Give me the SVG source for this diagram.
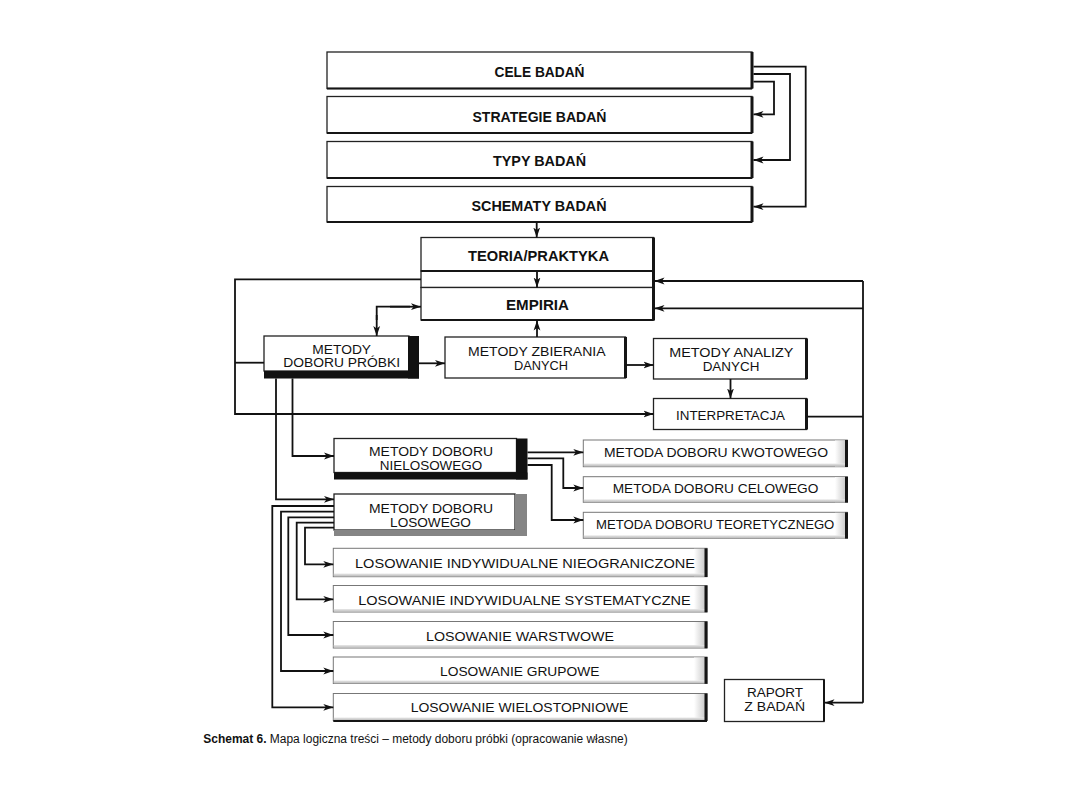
<svg xmlns="http://www.w3.org/2000/svg" width="1080" height="810" viewBox="0 0 1080 810">
<defs>
<marker id="ah" markerUnits="userSpaceOnUse" markerWidth="12" markerHeight="8" refX="10" refY="4" orient="auto">
<path d="M0,0.6 L10,4 L0,7.4 L2.6,4 z" fill="#111"/>
</marker>
<linearGradient id="gh" x1="0" y1="0" x2="1" y2="0">
<stop offset="0" stop-color="#ffffff"/>
<stop offset="1" stop-color="#c4c4c4"/>
</linearGradient>
<linearGradient id="gv" x1="0" y1="0" x2="0" y2="1">
<stop offset="0" stop-color="#e8e8e8"/>
<stop offset="1" stop-color="#b8b8b8"/>
</linearGradient>
<style>
.b{fill:#fff;stroke:#222;stroke-width:1.3}
.lb{fill:#fff;stroke:#777;stroke-width:1}
.edge{stroke:#151515;stroke-width:3;fill:none}
.edge2{stroke:#151515;stroke-width:2;fill:none}
.blk{fill:#111}
.gry{fill:#858585}
.sh{fill:url(#gh)}
.sv{fill:url(#gv)}
.c{fill:none;stroke:#111;stroke-width:1.8}
.ca{fill:none;stroke:#111;stroke-width:1.8;marker-end:url(#ah)}
text{font-family:"Liberation Sans","Noto Sans",sans-serif;fill:#111;text-anchor:middle}
.tb{font-weight:bold;font-size:15px}
.tr{font-size:13.5px}
.t2{font-size:12px}
.cap{font-size:12px;text-anchor:start}
</style>
</defs>
<rect width="1080" height="810" fill="#fff"/>

<g id="cele">
<rect class="b" x="327" y="52" width="425" height="36.5"/>
<line class="edge" x1="752" y1="52" x2="752" y2="88.5"/>
<line class="edge2" x1="327" y1="88.5" x2="752" y2="88.5"/>
<text class="tb" x="539.5" y="77.3" textLength="90" lengthAdjust="spacingAndGlyphs">CELE BADAŃ</text>
</g>
<g id="strategie">
<rect class="b" x="327" y="96.5" width="425" height="36.5"/>
<line class="edge" x1="752" y1="96.5" x2="752" y2="133"/>
<line class="edge2" x1="327" y1="133" x2="752" y2="133"/>
<text class="tb" x="539.5" y="122" textLength="134" lengthAdjust="spacingAndGlyphs">STRATEGIE BADAŃ</text>
</g>
<g id="typy">
<rect class="b" x="327" y="141.5" width="425" height="36.5"/>
<line class="edge" x1="752" y1="141.5" x2="752" y2="178"/>
<line class="edge2" x1="327" y1="178" x2="752" y2="178"/>
<text class="tb" x="539.5" y="166.3" textLength="93" lengthAdjust="spacingAndGlyphs">TYPY BADAŃ</text>
</g>
<g id="schematy">
<rect class="b" x="327" y="186.5" width="425" height="35.5"/>
<line class="edge" x1="752" y1="186.5" x2="752" y2="222"/>
<line class="edge2" x1="327" y1="222" x2="752" y2="222"/>
<text class="tb" x="539" y="211.3" textLength="135" lengthAdjust="spacingAndGlyphs">SCHEMATY BADAŃ</text>
</g>

<g id="teoria">
<rect class="b" x="421" y="237.5" width="232.5" height="33.5"/>
<rect class="b" x="421" y="271" width="232.5" height="16.5"/>
<line class="edge2" x1="421" y1="271" x2="653.5" y2="271"/>
<text class="tb" x="538.5" y="261.3" textLength="141" lengthAdjust="spacingAndGlyphs">TEORIA/PRAKTYKA</text>
</g>
<g id="empiria">
<rect class="b" x="421" y="287.5" width="232.5" height="32.5"/>
<line class="edge2" x1="421" y1="320" x2="653.5" y2="320"/>
<line class="edge" x1="653.5" y1="237.5" x2="653.5" y2="320.5"/>
<text class="tb" x="537.5" y="310.3" textLength="63" lengthAdjust="spacingAndGlyphs">EMPIRIA</text>
</g>

<g id="proba">
<rect class="b" x="264" y="336" width="145" height="35"/>
<rect class="blk" x="408" y="336" width="11" height="42.5"/>
<rect class="blk" x="264" y="371" width="155" height="7.5"/>
<text class="t2" y="353.5"><tspan x="341.7" textLength="58.7" lengthAdjust="spacingAndGlyphs">METODY</tspan><tspan x="341.7" dy="13.6" textLength="116.7" lengthAdjust="spacingAndGlyphs">DOBORU PRÓBKI</tspan></text>
</g>
<g id="zbieranie">
<rect class="b" x="445" y="337" width="180.5" height="41"/>
<line class="edge" x1="625.5" y1="337" x2="625.5" y2="378"/>
<text class="t2" y="356"><tspan x="536.8" textLength="137.6" lengthAdjust="spacingAndGlyphs">METODY ZBIERANIA</tspan><tspan x="541" dy="14.3" textLength="54" lengthAdjust="spacingAndGlyphs">DANYCH</tspan></text>
</g>
<g id="analiza">
<rect class="b" x="653.5" y="338.5" width="153" height="40.5"/>
<line class="edge" x1="806.5" y1="338.5" x2="806.5" y2="379"/>
<text class="t2" y="357"><tspan x="731.3" textLength="124" lengthAdjust="spacingAndGlyphs">METODY ANALIZY</tspan><tspan x="731" dy="13.6" textLength="56.7" lengthAdjust="spacingAndGlyphs">DANYCH</tspan></text>
</g>
<g id="interpretacja">
<rect class="b" x="653.5" y="398.5" width="153" height="31"/>
<line class="edge" x1="806.5" y1="398.5" x2="806.5" y2="429.5"/>
<text class="tr" x="730.5" y="420" textLength="109" lengthAdjust="spacingAndGlyphs">INTERPRETACJA</text>
</g>

<g id="nielosowy">
<rect class="b" x="334" y="438.5" width="182.5" height="34"/>
<rect class="blk" x="516" y="438.5" width="11.5" height="41"/>
<rect class="blk" x="334" y="472.5" width="193.5" height="7"/>
<text class="t2" y="456.2"><tspan x="431" textLength="124" lengthAdjust="spacingAndGlyphs">METODY DOBORU</tspan><tspan x="431" dy="13.6" textLength="102.4" lengthAdjust="spacingAndGlyphs">NIELOSOWEGO</tspan></text>
</g>
<g id="losowy">
<rect class="b" x="334" y="494" width="181" height="36"/>
<rect class="gry" x="515" y="494" width="12" height="42"/>
<rect class="gry" x="334" y="530" width="193" height="6"/>
<text class="t2" y="513"><tspan x="431" textLength="124" lengthAdjust="spacingAndGlyphs">METODY DOBORU</tspan><tspan x="430.5" dy="13.6" textLength="80.8" lengthAdjust="spacingAndGlyphs">LOSOWEGO</tspan></text>
</g>

<g id="kwotowy">
<rect class="lb" x="583.3" y="440" width="264" height="26.7"/>
<rect class="sh" x="835" y="440.5" width="12" height="26"/>
<rect class="sv" x="583.8" y="463.5" width="263" height="3"/>
<line class="edge" x1="846.5" y1="440" x2="846.5" y2="467"/>
<text class="tr" x="716" y="457" textLength="224" lengthAdjust="spacingAndGlyphs">METODA DOBORU KWOTOWEGO</text>
</g>
<g id="celowy">
<rect class="lb" x="583.3" y="476.7" width="264" height="25.6"/>
<rect class="sh" x="835" y="477.2" width="12" height="25"/>
<rect class="sv" x="583.8" y="499.3" width="263" height="3"/>
<line class="edge" x1="846.5" y1="476.7" x2="846.5" y2="502.6"/>
<text class="tr" x="715.5" y="493" textLength="205.7" lengthAdjust="spacingAndGlyphs">METODA DOBORU CELOWEGO</text>
</g>
<g id="teoretyczny">
<rect class="lb" x="583.3" y="512.3" width="264" height="26"/>
<rect class="sh" x="835" y="512.8" width="12" height="25.5"/>
<rect class="sv" x="583.8" y="535.3" width="263" height="3"/>
<line class="edge" x1="846.5" y1="512.3" x2="846.5" y2="538.6"/>
<text class="tr" x="715.2" y="529" textLength="238.3" lengthAdjust="spacingAndGlyphs">METODA DOBORU TEORETYCZNEGO</text>
</g>

<g id="nieograniczone">
<rect class="lb" x="333.3" y="548.3" width="373.7" height="28.4"/>
<rect class="sh" x="694" y="548.8" width="12.5" height="27.5"/>
<rect class="sv" x="333.8" y="573.5" width="372.7" height="3"/>
<line class="edge" x1="706" y1="548.3" x2="706" y2="577"/>
<text class="tr" x="525" y="568" textLength="340" lengthAdjust="spacingAndGlyphs">LOSOWANIE INDYWIDUALNE NIEOGRANICZONE</text>
</g>
<g id="systematyczne">
<rect class="lb" x="333.3" y="585.5" width="373.7" height="26.5"/>
<rect class="sh" x="694" y="586" width="12.5" height="25.5"/>
<rect class="sv" x="333.8" y="609" width="372.7" height="3"/>
<line class="edge" x1="706" y1="585.5" x2="706" y2="612.3"/>
<text class="tr" x="524.5" y="604.8" textLength="332.4" lengthAdjust="spacingAndGlyphs">LOSOWANIE INDYWIDUALNE SYSTEMATYCZNE</text>
</g>
<g id="warstwowe">
<rect class="lb" x="333.3" y="621.5" width="373.7" height="26.5"/>
<rect class="sh" x="694" y="622" width="12.5" height="25.5"/>
<rect class="sv" x="333.8" y="645" width="372.7" height="3"/>
<line class="edge" x1="706" y1="621.5" x2="706" y2="648.3"/>
<text class="tr" x="520" y="640.5" textLength="188" lengthAdjust="spacingAndGlyphs">LOSOWANIE WARSTWOWE</text>
</g>
<g id="grupowe">
<rect class="lb" x="333.3" y="657" width="373.7" height="26.5"/>
<rect class="sh" x="694" y="657.5" width="12.5" height="25.5"/>
<rect class="sv" x="333.8" y="680.5" width="372.7" height="3"/>
<line class="edge" x1="706" y1="657" x2="706" y2="683.8"/>
<text class="tr" x="519.7" y="675.8" textLength="159.3" lengthAdjust="spacingAndGlyphs">LOSOWANIE GRUPOWE</text>
</g>
<g id="wielostopniowe">
<rect class="lb" x="333.3" y="693.5" width="373.7" height="27"/>
<rect class="sh" x="694" y="694" width="12.5" height="26"/>
<rect class="sv" x="333.8" y="717.5" width="372.7" height="3"/>
<line class="edge2" x1="333.3" y1="721" x2="707" y2="721"/>
<line class="edge" x1="706" y1="693.5" x2="706" y2="721"/>
<text class="tr" x="519.5" y="712" textLength="217.6" lengthAdjust="spacingAndGlyphs">LOSOWANIE WIELOSTOPNIOWE</text>
</g>

<g id="raport">
<rect class="b" x="724.5" y="679.5" width="99.5" height="42"/>
<line class="edge2" x1="824" y1="679.5" x2="824" y2="721.5"/>
<text class="t2" y="697.3"><tspan x="775" textLength="56" lengthAdjust="spacingAndGlyphs">RAPORT</tspan><tspan x="774.7" dy="13.6" textLength="60.7" lengthAdjust="spacingAndGlyphs">Z BADAŃ</tspan></text>
</g>

<g id="connectors">
<polyline class="ca" points="753.5,66.7 805.7,66.7 805.7,206.7 753.5,206.7"/>
<polyline class="ca" points="753.5,74 790,74 790,160 753.5,160"/>
<polyline class="ca" points="753.5,81.7 774,81.7 774,114.3 753.5,114.3"/>
<line class="ca" x1="536.7" y1="222.5" x2="536.7" y2="237.5"/>
<line class="ca" x1="537" y1="272" x2="537" y2="287.5"/>
<line class="ca" x1="537" y1="337" x2="537" y2="320.5"/>
<polyline class="c" points="376.7,320 376.7,306.7 410,306.7"/>
<line class="ca" x1="390" y1="306.7" x2="421" y2="306.7"/>
<line class="ca" x1="376.7" y1="315" x2="376.7" y2="336"/>
<polyline class="ca" points="421,279.3 235,279.3 235,414 653.5,414"/>
<line class="c" x1="264" y1="362.7" x2="235" y2="362.7"/>
<line class="ca" x1="419" y1="363.3" x2="445" y2="363.3"/>
<line class="ca" x1="625.5" y1="365" x2="653.5" y2="365"/>
<line class="ca" x1="730.5" y1="379" x2="730.5" y2="398.5"/>
<line class="c" x1="806.5" y1="416.7" x2="863" y2="416.7"/>
<line class="c" x1="863" y1="281" x2="863" y2="702.7"/>
<line class="ca" x1="863" y1="281" x2="654.5" y2="281"/>
<line class="ca" x1="863" y1="308.3" x2="654.5" y2="308.3"/>
<line class="ca" x1="863" y1="702.7" x2="824.5" y2="702.7"/>
<polyline class="ca" points="292.5,378.5 292.5,456 334,456"/>
<polyline class="ca" points="276,378.5 276,499.3 334,499.3"/>
<line class="ca" x1="527.5" y1="452.3" x2="583.3" y2="452.3"/>
<polyline class="ca" points="527.5,458.3 563.3,458.3 563.3,488 583.3,488"/>
<polyline class="ca" points="527.5,465 551.7,465 551.7,520 583.3,520"/>
<polyline class="ca" points="334,506 272.3,506 272.3,707.3 333.3,707.3"/>
<polyline class="ca" points="334,511.7 281,511.7 281,671 333.3,671"/>
<polyline class="ca" points="334,517.3 288.3,517.3 288.3,635 333.3,635"/>
<polyline class="ca" points="334,522.7 296.7,522.7 296.7,599.3 333.3,599.3"/>
<polyline class="ca" points="334,527.7 305,527.7 305,564.3 333.3,564.3"/>
</g>

<text class="cap" x="203.3" y="743" textLength="424.4" lengthAdjust="spacingAndGlyphs"><tspan font-weight="bold">Schemat 6.</tspan> Mapa logiczna treści – metody doboru próbki (opracowanie własne)</text>
</svg>
